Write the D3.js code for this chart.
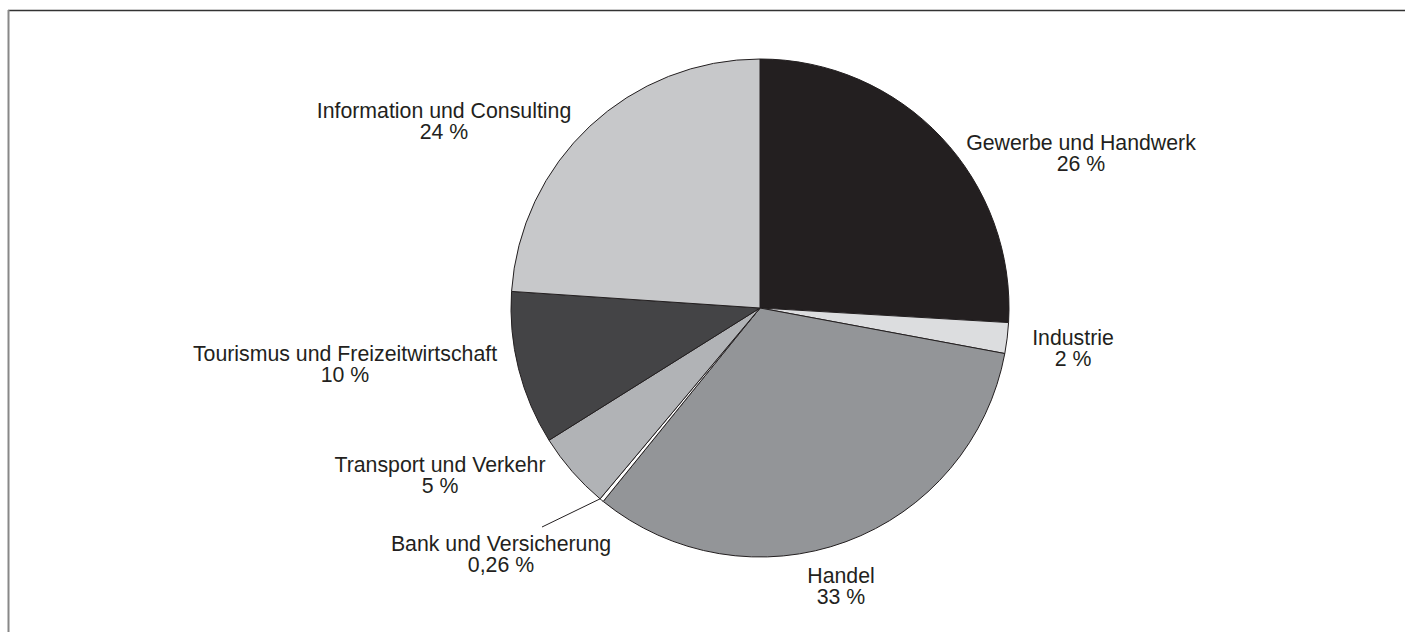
<!DOCTYPE html>
<html>
<head>
<meta charset="utf-8">
<script src="https://cdn.jsdelivr.net/npm/d3@7"></script>
<style>
  html, body { margin: 0; padding: 0; background: #fff; }
  svg text { font-family: "Liberation Sans", Arial, Helvetica, sans-serif; fill: #231f20; }
</style>
</head>
<body>
<div id="chart"></div>
<script>
// data
var categories = ["Gewerbe und Handwerk", "Industrie", "Handel", "Bank und Versicherung",
  "Transport und Verkehr", "Tourismus und Freizeitwirtschaft", "Information und Consulting"];
var values = [26, 2, 33, 0.26, 5, 10, 24];
var valueLabels = ["26 %", "2 %", "33 %", "0,26 %", "5 %", "10 %", "24 %"];
var fills = ["#231f20", "#dcdddf", "#939598", "#ffffff", "#b1b3b6", "#444446", "#c7c8ca"];

// label anchor (center x, first baseline y)
var labelPos = [[1081, 150], [1073, 345], [841, 583], [501, 551], [440, 472], [345, 361], [444, 118]];

var width = 1405, height = 632;
var cx = 760, cy = 308, radius = 249;

var svg = d3.select("#chart").append("svg")
  .attr("width", width)
  .attr("height", height);

// frame
svg.append("line").attr("x1", 8).attr("x2", width).attr("y1", 10.5).attr("y2", 10.5)
  .attr("stroke", "#333").attr("stroke-width", 1.5);
svg.append("line").attr("x1", 8.5).attr("x2", 8.5).attr("y1", 10).attr("y2", height)
  .attr("stroke", "#888").attr("stroke-width", 2);

var pie = d3.pie().sort(null).value(function(d) { return d; });
var arc = d3.arc().innerRadius(0).outerRadius(radius);
var arcs = pie(values);

var g = svg.append("g").attr("transform", "translate(" + cx + "," + cy + ")");

g.selectAll("path.slice")
  .data(arcs)
  .enter().append("path")
  .attr("class", "slice")
  .attr("d", arc)
  .attr("fill", function(d, i) { return fills[i]; })
  .attr("stroke", "#231f20")
  .attr("stroke-width", 1)
  .attr("stroke-linejoin", "round");

// leader line for the tiny slice, from its outer corner
var bank = arcs[3];
var px = Math.sin(bank.endAngle) * radius, py = -Math.cos(bank.endAngle) * radius;
g.append("line")
  .attr("x1", px).attr("y1", py)
  .attr("x2", labelPos[3][0] - cx + 41).attr("y2", labelPos[3][1] - cy - 24)
  .attr("stroke", "#231f20").attr("stroke-width", 1);

var labels = svg.selectAll("text.lbl")
  .data(categories)
  .enter().append("text")
  .attr("class", "lbl")
  .attr("text-anchor", "middle")
  .attr("font-size", "21.3px");

labels.append("tspan")
  .attr("x", function(d, i) { return labelPos[i][0]; })
  .attr("y", function(d, i) { return labelPos[i][1]; })
  .text(function(d) { return d; });
labels.append("tspan")
  .attr("x", function(d, i) { return labelPos[i][0]; })
  .attr("y", function(d, i) { return labelPos[i][1] + 21; })
  .text(function(d, i) { return valueLabels[i]; });
</script>
</body>
</html>
